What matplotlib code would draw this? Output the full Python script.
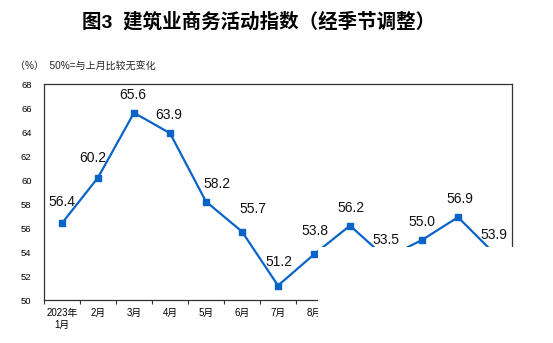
import matplotlib
matplotlib.use("Agg")
import matplotlib.pyplot as plt
from matplotlib.patches import Rectangle

plt.rcParams["font.family"] = ["Liberation Sans", "Noto Sans CJK SC", "DejaVu Sans"]

# 建筑业商务活动指数（经季节调整），2023年1月 ~ 2024年1月
months = ["2023年\n1月", "2月", "3月", "4月", "5月", "6月", "7月", "8月",
          "9月", "10月", "11月", "12月", "2024年\n1月"]
values = [56.4, 60.2, 65.6, 63.9, 58.2, 55.7, 51.2, 53.8, 56.2, 53.5, 55.0, 56.9, 53.9]
# 数据标签偏移(pt)
label_dx = [0, -4, -1, -1, 8, 8, 1, 1, 1, 0, 0, 1, 0]
label_dy = [15, 14, 13, 13, 13, 16, 17, 17, 13, 13, 13, 13, 13]

BLUE = "#0A64C8"

fig = plt.figure(figsize=(5.53, 3.43), dpi=100)
ax = fig.add_axes([44/553, 43/343, 468/553, 216/343])

xs = [i + 0.5 for i in range(len(values))]
ax.plot(xs, values, color=BLUE, lw=1.6, marker="s", ms=4.2, zorder=3)
for x, v, dx, dy in zip(xs, values, label_dx, label_dy):
    ax.annotate(f"{v:.1f}", (x, v), xytext=(dx, dy), textcoords="offset points",
                ha="center", va="center", fontsize=10, color="#111")

ax.set_xlim(0, len(values))
ax.set_ylim(50, 68)
ax.set_yticks(range(50, 69, 2))
ax.set_xticks(range(0, len(values) + 1))
ax.set_xticklabels([])
ax.set_xticks(xs, minor=True)
ax.set_xticklabels(months, minor=True, fontsize=7)
ax.tick_params(axis="x", which="minor", length=0, pad=6)
ax.tick_params(axis="x", which="major", direction="out", length=3, width=0.8, color="#333")
ax.tick_params(axis="y", length=0, pad=9, labelsize=6.8)
for s in ax.spines.values():
    s.set_color("#333")
    s.set_linewidth(0.9)

fig.text(259/553, 1 - 22/343, "图3  建筑业商务活动指数（经季节调整）",
         ha="center", va="center", fontsize=14, fontweight="bold")
fig.text(15/553, 1 - 67/343, "（%）  50%=与上月比较无变化",
         ha="left", va="center", fontsize=7.2, color="#222")

# 原图右下角被白色遮挡
fig.add_artist(Rectangle((318/553, 0), 1, (343 - 247)/343, transform=fig.transFigure,
                         facecolor="white", edgecolor="none", zorder=10))

fig.savefig("out.png", dpi=100, facecolor="white")
